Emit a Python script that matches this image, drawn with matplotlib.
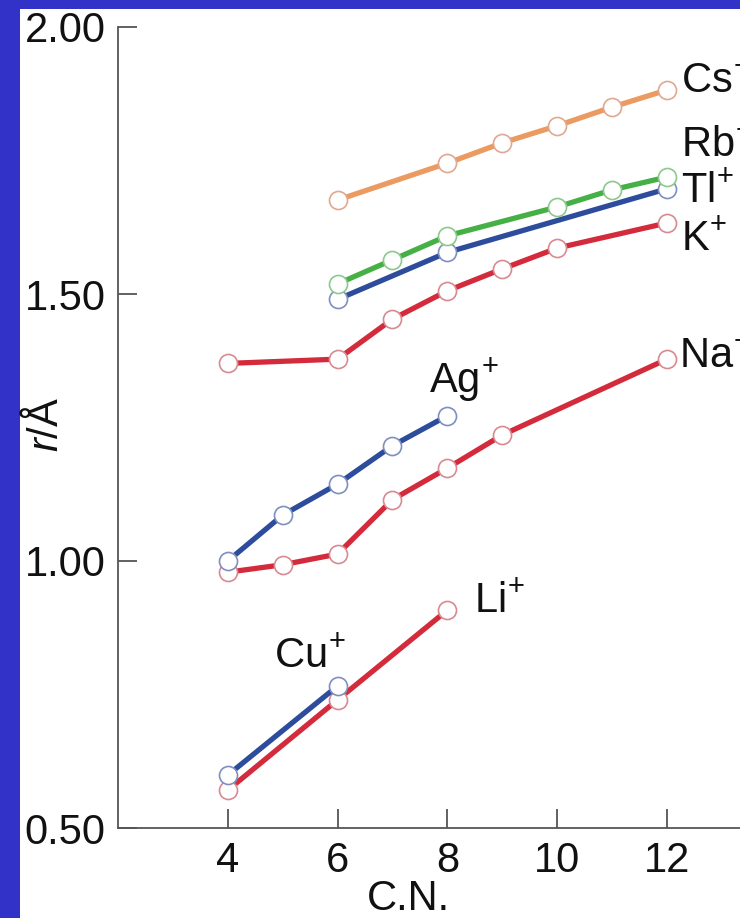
import matplotlib.pyplot as plt
from matplotlib.patches import Rectangle

plt.rcParams['font.family'] = ['Liberation Sans', 'DejaVu Sans']
plt.rcParams['mathtext.fontset'] = 'custom'
plt.rcParams['mathtext.rm'] = 'Liberation Sans'
plt.rcParams['mathtext.it'] = 'Liberation Sans:italic'

# ionic radius (r / angstrom) against coordination number
cs_cn = [6, 8, 9, 10, 11, 12]
cs_r = [1.676, 1.745, 1.783, 1.815, 1.850, 1.882]
rb_cn = [6, 7, 8, 10, 11, 12]
rb_r = [1.519, 1.564, 1.609, 1.663, 1.695, 1.719]
tl_cn = [6, 8, 12]
tl_r = [1.49, 1.578, 1.697]
k_cn = [4, 6, 7, 8, 9, 10, 12]
k_r = [1.370, 1.378, 1.453, 1.506, 1.547, 1.586, 1.633]
na_cn = [4, 5, 6, 7, 8, 9, 12]
na_r = [0.979, 0.993, 1.013, 1.115, 1.174, 1.236, 1.378]
ag_cn = [4, 5, 6, 7, 8]
ag_r = [1.000, 1.086, 1.144, 1.216, 1.272]
li_cn = [4, 6, 8]
li_r = [0.571, 0.740, 0.908]
cu_cn = [4, 6]
cu_r = [0.599, 0.766]

red = '#d42b3c'
blue = '#2d4d9c'
green = '#46b046'
orange = '#eb9a62'

W, H = 740, 918
fig = plt.figure(figsize=(W / 100, H / 100), dpi=100, facecolor='#3232c8')
# white slide area inside the blue frame
fig.patches.append(Rectangle((20 / W, 0), 1, 1 - 9 / H, transform=fig.transFigure,
                             facecolor='white', edgecolor='none', zorder=0))

ax = fig.add_axes([118 / W, (H - 828) / H, (W - 118) / W, (828 - 27) / H])
ax.set_facecolor('none')
ax.set_zorder(2)


def series(x, y, color, edge):
    ax.plot(x, y, color=color, lw=3.8, marker='o', ms=13, mfc='white',
            mec=edge, mew=1.2, clip_on=False)


series(cs_cn, cs_r, orange, '#e0a890')
series(k_cn, k_r, red, '#d88a92')
series(na_cn, na_r, red, '#d88a92')
series(li_cn, li_r, red, '#d88a92')
series(tl_cn, tl_r, blue, '#7f8fbf')
series(rb_cn, rb_r, green, '#8cc98c')
series(ag_cn, ag_r, blue, '#7f8fbf')
series(cu_cn, cu_r, blue, '#7f8fbf')

ax.set_xlim(2, 13.33)
ax.set_ylim(0.5, 2.0)
ax.set_xticks([4, 6, 8, 10, 12])
ax.set_yticks([0.5, 1.0, 1.5, 2.0])
ax.set_yticklabels(['0.50', '1.00', '1.50', '2.00'])
ax.tick_params(direction='in', length=14, width=1.3, color='#555555',
               labelsize=30, pad=9, labelcolor='#111111')
for s in ['top', 'right']:
    ax.spines[s].set_visible(False)
for s in ['left', 'bottom']:
    ax.spines[s].set_color('#555555')
    ax.spines[s].set_linewidth(1.3)

labels = [(12.25, 1.878, r'Cs$^{\!+}$'), (12.25, 1.757, r'Rb$^{\!+}$'),
          (12.25, 1.672, r'Tl$^{\!+}$'), (12.25, 1.582, r'K$^{\!+}$'),
          (12.22, 1.363, r'Na$^{\!+}$'), (7.67, 1.316, r'Ag$^{\!+}$'),
          (8.49, 0.903, r'Li$^{\!+}$'), (4.85, 0.800, r'Cu$^{\!+}$')]
for x, y, t in labels:
    ax.text(x, y, t, fontsize=30, va='baseline', ha='left', color='#111111',
            clip_on=False)

fig.text(46 / W, 1 - 424 / H, r'$\it{r}$/Å', rotation=90, fontsize=30,
         ha='center', va='center', color='#111111')
fig.text(408 / W, 1 - 899 / H, 'C.N.', fontsize=30, ha='center', va='center',
         color='#111111')

fig.savefig('out.png', dpi=100, facecolor=fig.get_facecolor())
